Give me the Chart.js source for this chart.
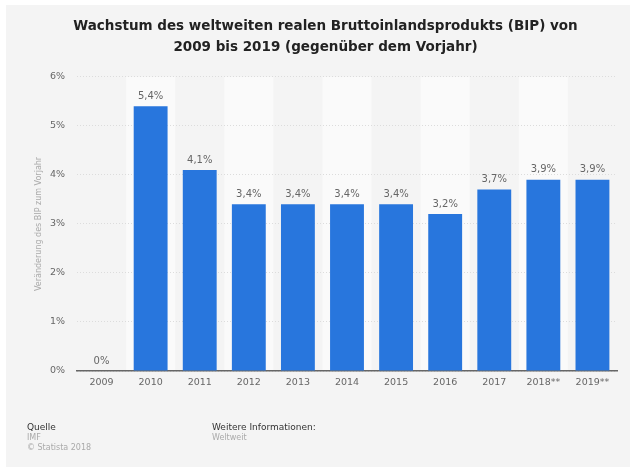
<!DOCTYPE html>
<html>
<head>
<meta charset="utf-8">
<script src="https://cdn.jsdelivr.net/npm/chart.js@4"></script>
<style>
  body { margin: 0; background: #fff; }
  #wrap { width: 636px; height: 473px; }
</style>
</head>
<body>
<div id="wrap"><canvas id="bipChart" width="636" height="473"></canvas></div>
<script>
// Data
const years = ['2009', '2010', '2011', '2012', '2013', '2014', '2015', '2016', '2017', '2018**', '2019**'];
const growth = [0, 5.4, 4.1, 3.4, 3.4, 3.4, 3.4, 3.2, 3.7, 3.9, 3.9];
const yTicks = [0, 1, 2, 3, 4, 5, 6];

const titleLines = [
  'Wachstum des weltweiten realen Bruttoinlandsprodukts (BIP) von',
  '2009 bis 2019 (gegenüber dem Vorjahr)'
];

const FONT = '"DejaVu Sans", sans-serif';

// grey panel + alternating column bands
const backdrop = {
  id: 'backdrop',
  beforeDraw(chart) {
    const ctx = chart.ctx;
    const area = chart.chartArea;
    const x = chart.scales.x;
    ctx.save();
    ctx.fillStyle = '#ffffff';
    ctx.fillRect(0, 0, chart.width, chart.height);
    ctx.fillStyle = '#f4f4f4';
    ctx.fillRect(6, 5, 624, 462);
    const step = (area.right - area.left) / years.length;
    ctx.fillStyle = '#fafafa';
    years.forEach((y, i) => {
      if (i % 2 === 1) {
        const cx = x.getPixelForValue(i);
        ctx.fillRect(cx - step / 2, area.top, step, area.bottom - area.top);
      }
    });
    ctx.restore();
  }
};

// value labels above the bars
const valueLabels = {
  id: 'valueLabels',
  afterDatasetsDraw(chart) {
    const ctx = chart.ctx;
    const meta = chart.getDatasetMeta(0);
    ctx.save();
    ctx.font = '10px ' + FONT;
    ctx.fillStyle = '#666';
    ctx.textAlign = 'center';
    ctx.textBaseline = 'bottom';
    meta.data.forEach((bar, i) => {
      const txt = String(growth[i]).replace('.', ',') + '%';
      ctx.fillText(txt, bar.x, bar.y - 5);
    });
    ctx.restore();
  }
};

// source block at the bottom
const footer = {
  id: 'footer',
  afterDraw(chart) {
    const ctx = chart.ctx;
    ctx.save();
    ctx.textBaseline = 'middle';
    ctx.textAlign = 'left';
    ctx.font = '9px ' + FONT;
    ctx.fillStyle = '#333';
    ctx.fillText('Quelle', 27, 428);
    ctx.fillText('Weitere Informationen:', 212, 428);
    ctx.font = '8px ' + FONT;
    ctx.fillStyle = '#aaa';
    ctx.fillText('IMF', 27, 438);
    ctx.fillText('© Statista 2018', 27, 448);
    ctx.fillText('Weltweit', 212, 438);
    ctx.restore();
  }
};

const ctx = document.getElementById('bipChart').getContext('2d');
new Chart(ctx, {
  type: 'bar',
  data: {
    labels: years,
    datasets: [{
      data: growth,
      backgroundColor: '#2876dd',
      borderWidth: 0,
      barPercentage: 0.69,
      categoryPercentage: 1
    }]
  },
  options: {
    responsive: false,
    animation: false,
    layout: { padding: { left: 34, right: 19, top: 0, bottom: 78 } },
    plugins: {
      legend: { display: false },
      tooltip: { enabled: false },
      title: {
        display: true,
        text: titleLines,
        color: '#222',
        font: { family: FONT, size: 13.5, weight: 'bold', lineHeight: 1.55 },
        padding: { top: 16, bottom: 19 }
      }
    },
    scales: {
      x: {
        grid: { display: false, drawTicks: false },
        border: { display: true, color: '#666', width: 1.5 },
        ticks: { color: '#666', font: { family: FONT, size: 9.5 }, padding: 6 },
        afterFit(scale) { scale.height = 24; }
      },
      y: {
        min: 0,
        max: 6,
        afterBuildTicks(scale) { scale.ticks = yTicks.map(v => ({ value: v })); },
        grid: { color: '#dcdcdc', drawTicks: false },
        border: { display: false, dash: [1, 2] },
        ticks: {
          color: '#666',
          font: { family: FONT, size: 9.5 },
          padding: 12,
          callback: v => v + '%'
        },
        title: {
          display: true,
          text: 'Veränderung des BIP zum Vorjahr',
          color: '#aaa',
          font: { family: FONT, size: 8 },
          padding: 0
        },
        afterFit(scale) { scale.width = 43; }
      }
    }
  },
  plugins: [backdrop, valueLabels, footer]
});
</script>
</body>
</html>
